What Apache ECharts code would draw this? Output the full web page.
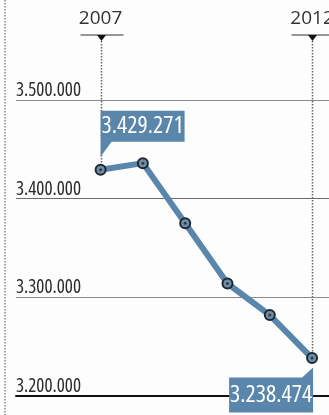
<!DOCTYPE html>
<html>
<head>
<meta charset="utf-8">
<script src="https://cdn.jsdelivr.net/npm/echarts@6/dist/echarts.min.js"></script>
<style>
html,body{margin:0;padding:0;background:#fdfdfd;}
#c{width:329px;height:415px;}
</style>
</head>
<body>
<div id="c"></div>
<script>
var years = [2007, 2008, 2009, 2010, 2011, 2012];
var values = [3429271, 3436000, 3375000, 3314000, 3282000, 3238474];
var headerYears = [2007, 2012];

function fmt(v) {
  return String(v).replace(/\B(?=(\d{3})+(?!\d))/g, '.');
}

var BLUE = '#5a86ab';
var DARK = '#1f2731';
var FONT = '"Open Sans", sans-serif';

var pts = years.map(function (y, i) { return [y, values[i]]; });
var first = pts[0], last = pts[pts.length - 1];

var chart = echarts.init(document.getElementById('c'), null, {renderer: 'canvas'});
chart.setOption({
  backgroundColor: '#fdfdfd',
  animation: false,
  grid: {left: 16, right: 0, top: 100, bottom: 19, containLabel: false, outerBoundsMode: 'none'},
  xAxis: [{
    type: 'value', position: 'top', min: 2005, max: 2012.4, offset: 60,
    axisLine: {show: false}, axisTick: {show: false}, splitLine: {show: false},
    axisLabel: {
      customValues: headerYears, margin: 12, hideOverlap: false,
      fontFamily: FONT, fontSize: 19, color: '#333',
      formatter: function (v) { return String(v); }
    }
  }, {
    type: 'value', position: 'bottom', min: 2005, max: 2012.4,
    axisLine: {show: true, lineStyle: {color: '#111', width: 2}},
    axisTick: {show: false}, axisLabel: {show: false}, splitLine: {show: false}
  }],
  yAxis: {
    type: 'value', min: 3200000, max: 3500000, interval: 100000,
    axisLine: {show: false}, axisTick: {show: false},
    splitLine: {lineStyle: {color: ['#111', '#8a8a8a', '#6a6a6a', '#8a8a8a'], width: 1.2}},
    axisLabel: {
      inside: true, margin: 0, verticalAlign: 'bottom', align: 'left',
      fontFamily: FONT, fontStyle: 'condensed', fontWeight: 500, fontSize: 19, color: '#2b2b2b',
      formatter: function (v) { return fmt(v); }
    }
  },
  series: [{
    type: 'line', data: pts, xAxisIndex: 0,
    lineStyle: {color: BLUE, width: 6},
    symbol: 'circle', symbolSize: 10,
    itemStyle: {color: '#6f8ea8', borderColor: DARK, borderWidth: 2},
    z: 3,
    markPoint: {
      silent: true,
      z: 5,
      data: [{
        coord: first, value: first[1],
        symbol: 'path://M0,0 L84,0 L84,31 L11,31 L0,46 Z',
        symbolSize: [84, 46], symbolOffset: [42, -36],
        itemStyle: {color: BLUE},
        label: {offset: [0, -7.5]}
      }, {
        coord: last, value: last[1],
        symbol: 'path://M0,10 L73,10 L84,0 L84,45 L0,45 Z',
        symbolSize: [84, 45], symbolOffset: [-41, 32],
        itemStyle: {color: BLUE},
        label: {offset: [0, 5]}
      }],
      label: {
        show: true, position: 'inside', color: '#fff',
        fontFamily: FONT, fontStyle: 'condensed', fontWeight: 500, fontSize: 24,
        overflow: 'none',
        formatter: function (p) { return fmt(p.value); }
      }
    }
  }, {
    type: 'scatter', data: pts, symbolSize: 3, itemStyle: {color: DARK}, z: 4, silent: true
  }]
});

var g = [{
  type: 'line', shape: {x1: 5, y1: 0, x2: 5, y2: 415},
  style: {stroke: '#888', lineWidth: 1.5, lineDash: [1.5, 1.5]}
}];
headerYears.forEach(function (yr) {
  var idx = years.indexOf(yr);
  var p = chart.convertToPixel({xAxisIndex: 0, yAxisIndex: 0}, [yr, values[idx]]);
  var px = Math.round(p[0]) + 0.5;
  g.push({type: 'line', shape: {x1: px - 21, y1: 35, x2: px + 22, y2: 35},
    style: {stroke: '#333', lineWidth: 1.2}});
  g.push({type: 'polygon', shape: {points: [[px - 4.5, 35], [px + 4.5, 35], [px, 41]]},
    style: {fill: '#111'}});
  g.push({type: 'line', shape: {x1: px, y1: 41, x2: px, y2: p[1]},
    style: {stroke: '#666', lineWidth: 1.5, lineDash: [1.5, 1.5]}, z: 1});
});
chart.setOption({graphic: g});
</script>
</body>
</html>
